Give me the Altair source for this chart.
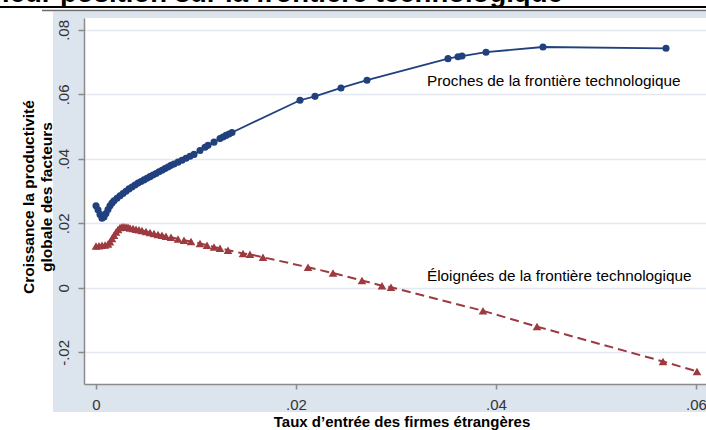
import altair as alt
import pandas as pd

# ---------------- data ----------------
near_x = [0.0000, 0.0002, 0.0004, 0.0006, 0.0008, 0.0010, 0.0012, 0.0014, 0.0016, 0.0018,
          0.0021, 0.0024, 0.0027, 0.0030, 0.0033, 0.0036, 0.0039, 0.0042, 0.0045, 0.0048,
          0.0051, 0.0054, 0.0057, 0.0060, 0.0063, 0.0066, 0.0069, 0.0072, 0.0075, 0.0078,
          0.0082, 0.0086, 0.0090, 0.0094, 0.0098,
          0.0104, 0.0109, 0.0112, 0.0118, 0.0124, 0.0127, 0.0130, 0.0133, 0.0136,
          0.0204, 0.0219, 0.0245, 0.0271,
          0.0352, 0.0362, 0.0366, 0.0390, 0.0447, 0.0570]
near_y = [0.0255, 0.0242, 0.0228, 0.0216, 0.0220, 0.0231, 0.0243, 0.0255, 0.0263, 0.0270,
          0.0278, 0.0286, 0.0293, 0.0300, 0.0307, 0.0313, 0.0319, 0.0325, 0.0330, 0.0335,
          0.0340, 0.0345, 0.0350, 0.0355, 0.0360, 0.0365, 0.0370, 0.0375, 0.0380, 0.0384,
          0.0390, 0.0396, 0.0402, 0.0408, 0.0414,
          0.0426, 0.0436, 0.0442, 0.0452, 0.0463, 0.0468, 0.0473, 0.0477, 0.0482,
          0.0582, 0.0594, 0.0620, 0.0644,
          0.0711, 0.0717, 0.0719, 0.0731, 0.0747, 0.0743]

far_x = [0.0000, 0.0003, 0.0006, 0.0009, 0.0012, 0.0014, 0.0016, 0.0018, 0.0020, 0.0022,
         0.0024, 0.0026, 0.0028, 0.0030, 0.0032, 0.0034, 0.0037, 0.0040, 0.0043, 0.0046,
         0.0050, 0.0054, 0.0058, 0.0062, 0.0066, 0.0070, 0.0075, 0.0082, 0.0088, 0.0095,
         0.0104, 0.0111, 0.0118, 0.0124, 0.0132, 0.0147, 0.0154, 0.0167,
         0.0212, 0.0237, 0.0266, 0.0286, 0.0295,
         0.0387, 0.0441, 0.0567, 0.0601]
far_y = [0.0130, 0.0131, 0.0132, 0.0133, 0.0136, 0.0143, 0.0153, 0.0163, 0.0173, 0.0181,
         0.0187, 0.0190, 0.0190, 0.0189, 0.0188, 0.0186, 0.0184, 0.0182, 0.0180, 0.0178,
         0.0175, 0.0172, 0.0169, 0.0166, 0.0163, 0.0160, 0.0157, 0.0152, 0.0148, 0.0144,
         0.0138, 0.0132, 0.0127, 0.0123, 0.0117, 0.0107, 0.0104, 0.0095,
         0.0064, 0.0046, 0.0023, 0.0007, 0.0002,
         -0.0071, -0.0120, -0.0228, -0.0259]

x_ticks = [0, 0.02, 0.04, 0.06]
x_tick_labels = ["0", ".02", ".04", ".06"]
y_ticks = [-0.02, 0, 0.02, 0.04, 0.06, 0.08]
y_tick_labels = ["-.02", "0", ".02", ".04", ".06", ".08"]

series_labels = ["Proches de la frontière technologique",
                 "Éloignées de la frontière technologique"]
series_label_x = [0.0331, 0.0331]
series_label_y = [0.0643, 0.0037]

top_title = "leur position sur la frontière technologique"
x_title = "Taux d’entrée des firmes étrangères"
y_title = ["Croissance la productivité", "globale des facteurs"]

# ---------------- styling ----------------
FONT = "Liberation Sans"
BLUE = "#20407e"
RED = "#9c3a40"
BAND = "#dce4ee"
W, H = 622, 366          # plot area
PL, PT = 84, 18          # plot origin inside the 706x430 page


def label_expr(vals, labels):
    s = ""
    for v, l in zip(vals, labels):
        s += f"abs(datum.value - ({v})) < 1e-9 ? '{l}' : "
    return s + "''"


x_enc = alt.X("x:Q",
              scale=alt.Scale(domain=[-0.0012, 0.0610], nice=False, zero=False),
              axis=alt.Axis(values=x_ticks, labelExpr=label_expr(x_ticks, x_tick_labels),
                            title=None, grid=False, domainColor="#8a8a8a", domainWidth=1.5,
                            tickColor="#8a8a8a", tickWidth=1.5, tickSize=5,
                            labelFont=FONT, labelFontSize=15, labelColor="#333333",
                            labelPadding=8, labelFlush=False))
y_enc = alt.Y("y:Q",
              scale=alt.Scale(domain=[-0.0298, 0.0837], nice=False, zero=False),
              axis=alt.Axis(values=y_ticks, labelExpr=label_expr(y_ticks, y_tick_labels),
                            title=None, grid=True, gridColor="#e3e8f1", gridWidth=1.5,
                            domainColor="#8a8a8a", domainWidth=1.5,
                            tickColor="#8a8a8a", tickWidth=1.5, tickSize=6,
                            labelFont=FONT, labelFontSize=15, labelColor="#333333",
                            labelAngle=270, labelAlign="center", labelBaseline="alphabetic",
                            labelPadding=10, labelFlush=False))

near_df = pd.DataFrame({"x": near_x, "y": near_y})
far_df = pd.DataFrame({"x": far_x, "y": far_y})
lab_df = pd.DataFrame({"x": series_label_x, "y": series_label_y, "t": series_labels})
one = pd.DataFrame({"a": [0]})

near_line = alt.Chart(near_df).mark_line(color=BLUE, strokeWidth=1.8).encode(x=x_enc, y=y_enc)
near_pts = alt.Chart(near_df).mark_point(shape="circle", filled=True, size=50,
                                         color=BLUE, opacity=1).encode(x=x_enc, y=y_enc)
far_line = alt.Chart(far_df).mark_line(color=RED, strokeWidth=2,
                                       strokeDash=[9, 5]).encode(x=x_enc, y=y_enc)
far_pts = alt.Chart(far_df).mark_point(shape="triangle-up", filled=True, size=75,
                                       color=RED, opacity=1).encode(x=x_enc, y=y_enc)
labels = alt.Chart(lab_df).mark_text(align="left", baseline="middle", font=FONT,
                                     fontSize=15.3, color="black").encode(
    x=x_enc, y=y_enc, text="t:N")

# decorations: white outside the grey band, header rules, cropped heading
left_strip = alt.Chart(one).mark_rect(color="white").encode(
    x=alt.value(-PL), x2=alt.value(53 - PL), y=alt.value(-PT), y2=alt.value(430 - PT))
top_strip = alt.Chart(one).mark_rect(color="white").encode(
    x=alt.value(-PL), x2=alt.value(W), y=alt.value(-PT), y2=alt.value(11.5 - PT))
bottom_strip = alt.Chart(one).mark_rect(color="white").encode(
    x=alt.value(-PL), x2=alt.value(W), y=alt.value(412 - PT), y2=alt.value(430 - PT))
black_rule = alt.Chart(one).mark_rule(color="black", strokeWidth=2).encode(
    x=alt.value(-PL), x2=alt.value(W), y=alt.value(7 - PT))
grey_rule = alt.Chart(one).mark_rule(color="#6e6e6e", strokeWidth=1.5).encode(
    x=alt.value(42 - PL), x2=alt.value(W), y=alt.value(10.5 - PT))
heading = alt.Chart(one).mark_text(text=top_title, align="left", baseline="alphabetic",
                                   font=FONT, fontSize=27.5, fontWeight="bold",
                                   color="black").encode(
    x=alt.value(2 - PL), y=alt.value(2 - PT))
ytitle = alt.Chart(one).mark_text(text=y_title, angle=270, align="center",
                                  baseline="middle", lineHeight=18, font=FONT,
                                  fontSize=15.5, fontWeight="bold", color="black").encode(
    x=alt.value(29 - PL), y=alt.value(197 - PT))
xtitle = alt.Chart(one).mark_text(text=x_title, align="center", baseline="alphabetic",
                                  font=FONT, fontSize=15, fontWeight="bold",
                                  color="black").encode(
    x=alt.value(402 - PL), y=alt.value(427 - PT))

chart = alt.layer(
    left_strip, top_strip, bottom_strip,
    near_line, far_line, near_pts, far_pts, labels,
    black_rule, grey_rule, heading, ytitle, xtitle,
).properties(
    width=W, height=H,
    autosize=alt.AutoSizeParams(type="none"),
    padding={"left": PL, "top": PT, "right": 706 - PL - W, "bottom": 430 - PT - H},
    background=BAND,
).configure_view(stroke=None, fill="white")

chart.save("out.html", embed_options={"renderer": "svg", "actions": False})
